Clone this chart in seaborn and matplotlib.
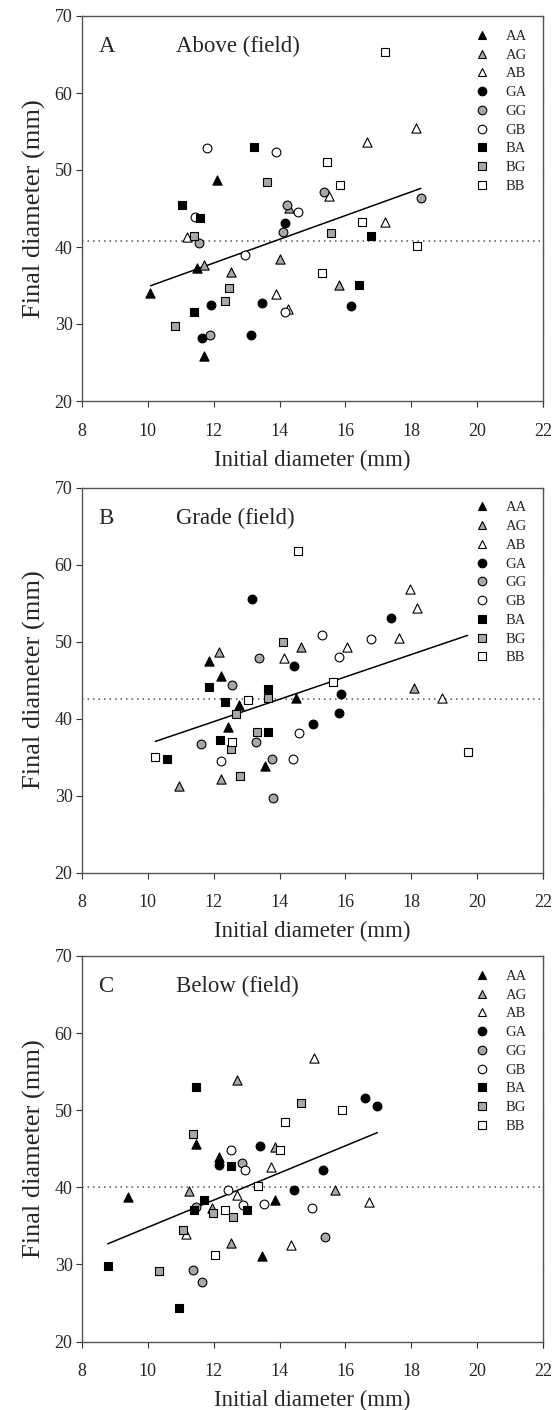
import matplotlib
matplotlib.use("Agg")
import matplotlib.pyplot as plt
from matplotlib.lines import Line2D
import seaborn as sns
import pandas as pd

sns.set_style("ticks")
plt.rcParams['font.family'] = ['Liberation Serif', 'DejaVu Serif']
plt.rcParams['mathtext.fontset'] = 'stix'

groups = ["AA", "AG", "AB", "GA", "GG", "GB", "BA", "BG", "BB"]

# ---------------- Panel A : Above (field) ----------------
A_x = {
    "AA": [10.08, 11.50, 12.11, 11.70],
    "AG": [11.72, 12.51, 14.02, 15.79, 14.30],
    "AB": [11.20, 13.88, 14.25, 15.50, 16.66, 17.19, 18.13],
    "GA": [11.64, 11.93, 13.14, 13.48, 14.15, 16.16],
    "GG": [11.56, 11.88, 14.10, 14.23, 15.34, 18.29],
    "GB": [11.44, 11.79, 12.94, 13.88, 14.15, 14.56],
    "BA": [11.03, 11.39, 11.58, 13.21, 16.41, 16.77],
    "BG": [10.83, 11.40, 12.35, 12.45, 13.63, 15.55],
    "BB": [15.30, 15.44, 15.83, 16.50, 17.19, 18.16],
}
A_y = {
    "AA": [34.0, 37.3, 48.7, 25.9],
    "AG": [37.6, 36.8, 38.4, 35.1, 45.1],
    "AB": [41.3, 33.9, 31.9, 46.6, 53.6, 43.3, 55.4],
    "GA": [28.2, 32.5, 28.6, 32.7, 43.1, 32.4],
    "GG": [40.5, 28.6, 42.0, 45.4, 47.2, 46.3],
    "GB": [43.9, 52.9, 38.9, 52.4, 31.6, 44.5],
    "BA": [45.5, 31.5, 43.8, 53.0, 35.1, 41.4],
    "BG": [29.8, 41.4, 33.0, 34.7, 48.4, 41.8],
    "BB": [36.6, 51.0, 48.0, 43.2, 65.3, 40.1],
}
A_mean = 40.8

# ---------------- Panel B : Grade (field) ----------------
B_x = {
    "AA": [11.85, 12.22, 12.44, 12.76, 13.55, 14.50],
    "AG": [10.94, 12.16, 12.22, 14.64, 18.09],
    "AB": [14.14, 16.04, 17.64, 17.96, 18.18, 18.94],
    "GA": [13.17, 14.43, 15.02, 15.80, 15.88, 17.38],
    "GG": [11.61, 12.56, 13.27, 13.38, 13.78, 13.81],
    "GB": [12.22, 14.40, 14.60, 15.28, 15.80, 16.78],
    "BA": [10.58, 11.85, 12.20, 12.34, 13.64, 13.64],
    "BG": [12.53, 12.69, 12.79, 13.30, 13.66, 14.11],
    "BB": [10.23, 12.56, 13.03, 14.57, 15.61, 19.71],
}
B_y = {
    "AA": [47.5, 45.5, 38.9, 41.8, 33.8, 42.7],
    "AG": [31.2, 48.6, 32.2, 49.3, 44.0],
    "AB": [47.9, 49.3, 50.4, 56.8, 54.4, 42.6],
    "GA": [55.5, 46.8, 39.3, 40.7, 43.2, 53.0],
    "GG": [36.7, 44.4, 36.9, 47.9, 34.8, 29.7],
    "GB": [34.5, 34.7, 38.1, 50.8, 48.0, 50.3],
    "BA": [34.7, 44.1, 37.2, 42.2, 43.8, 38.2],
    "BG": [36.1, 40.6, 32.5, 38.2, 42.7, 50.0],
    "BB": [35.0, 37.0, 42.4, 61.8, 44.7, 35.6],
}
B_mean = 42.5

# ---------------- Panel C : Below (field) ----------------
C_x = {
    "AA": [9.39, 11.47, 12.17, 13.46, 13.87],
    "AG": [11.25, 11.94, 12.53, 12.72, 13.87, 15.69],
    "AB": [11.16, 12.70, 13.74, 14.34, 15.06, 16.72],
    "GA": [12.17, 13.41, 14.44, 15.33, 16.60, 16.97],
    "GG": [11.38, 11.47, 11.64, 12.85, 15.39],
    "GB": [12.43, 12.52, 12.88, 12.95, 13.53, 15.00],
    "BA": [8.78, 10.95, 11.41, 11.47, 11.69, 12.52, 13.00],
    "BG": [10.34, 11.08, 11.38, 11.97, 12.58, 14.65],
    "BB": [12.04, 12.33, 13.34, 14.02, 14.17, 15.89],
}
C_y = {
    "AA": [38.7, 45.6, 43.9, 31.1, 38.4],
    "AG": [39.5, 37.3, 32.8, 53.9, 45.2, 39.6],
    "AB": [34.0, 39.0, 42.6, 32.5, 56.8, 38.1],
    "GA": [42.9, 45.4, 39.7, 42.3, 51.6, 50.6],
    "GG": [29.3, 37.5, 27.7, 43.2, 33.5],
    "GB": [39.7, 44.9, 37.7, 42.3, 37.8, 37.3],
    "BA": [29.8, 24.4, 37.1, 53.0, 38.4, 42.8, 37.0],
    "BG": [29.2, 34.4, 46.9, 36.7, 36.2, 50.9],
    "BB": [31.2, 37.1, 40.2, 44.9, 48.5, 50.0],
}
C_mean = 40.0

panels = [
    ("A", "Above (field)", A_x, A_y, A_mean),
    ("B", "Grade (field)", B_x, B_y, B_mean),
    ("C", "Below (field)", C_x, C_y, C_mean),
]

x_ticks = [8, 10, 12, 14, 16, 18, 20, 22]
y_ticks = [20, 30, 40, 50, 60, 70]

# styles
GRAY = "#a8a8a8"
face = {"A": "black", "G": GRAY, "B": "white"}
mark = {"A": "^", "G": "o", "B": "s"}
msize = {"^": 44, "o": 40, "s": 32}

fig = plt.figure(figsize=(5.54, 14.10), dpi=100)
W, H = 554.0, 1410.0
ax_rects = [(82, 16, 543, 401), (82, 487.5, 543, 872.5), (82, 956, 543, 1341.5)]

for (letter, title, xs, ys, mean_y), (l, t, r, b) in zip(panels, ax_rects):
    ax = fig.add_axes([l / W, 1 - b / H, (r - l) / W, (b - t) / H])
    rows = []
    for g in groups:
        for xv, yv in zip(xs[g], ys[g]):
            rows.append({"group": g, "x": xv, "y": yv})
    df = pd.DataFrame(rows)

    # dotted mean line
    ax.axhline(mean_y, color="#555555", lw=1.1, ls=(0, (1, 2.6)), zorder=1)
    # regression line
    sns.regplot(data=df, x="x", y="y", scatter=False, ci=None, truncate=True,
                line_kws={"color": "black", "lw": 1.1, "zorder": 2}, ax=ax)

    for g in groups:
        sub = df[df["group"] == g]
        m = mark[g[0]]
        sns.scatterplot(data=sub, x="x", y="y", marker=m, color=face[g[1]],
                        edgecolor="black", linewidth=0.8, s=msize[m],
                        ax=ax, zorder=3, legend=False)

    ax.set_xlim(8, 22)
    ax.set_ylim(20, 70)
    ax.set_xticks(x_ticks)
    ax.set_yticks(y_ticks)
    ax.tick_params(axis="both", which="both", labelsize=13, direction="out",
                   length=4.3, width=0.8, color="#333333")
    ax.tick_params(axis="x", pad=11.5)
    ax.tick_params(axis="y", pad=2.5, right=True, labelright=False)
    # right ticks inward
    for tl in ax.yaxis.get_ticklines()[1::2]:
        tl.set_marker(3)
    ax.set_xlabel("Initial diameter (mm)", fontsize=16.5, labelpad=7)
    ax.set_ylabel("Final diameter (mm)", fontsize=19, labelpad=6)
    for sp in ax.spines.values():
        sp.set_color("#555555")
        sp.set_linewidth(1.0)

    ax.text(8.5, 66.0, letter, fontsize=16.5, va="center", ha="left")
    ax.text(10.85, 66.0, title, fontsize=16.5, va="center", ha="left")

    handles = []
    for g in groups:
        m = mark[g[0]]
        handles.append(Line2D([], [], ls="none", marker=m, markerfacecolor=face[g[1]],
                              markeredgecolor="black", markeredgewidth=0.8,
                              markersize=6.2 if m != "s" else 5.6))
    ax.legend(handles, groups, loc="upper left", bbox_to_anchor=(0.845, 0.972),
              frameon=False, fontsize=10.5, handlelength=1.0, handletextpad=1.15,
              labelspacing=0.38, borderpad=0.2, borderaxespad=0.0)

fig.savefig("out.png", dpi=100)
